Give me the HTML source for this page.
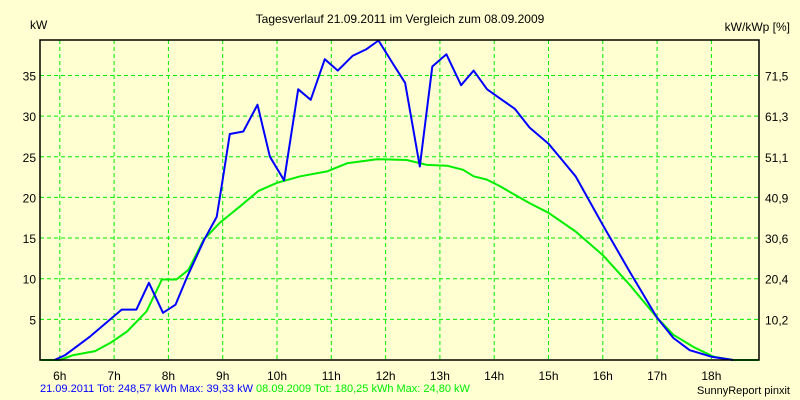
<!DOCTYPE html>
<html><head><meta charset="utf-8"><style>
body{margin:0;background:#ffffd2;}
svg{display:block;font-family:"Liberation Sans",Arial,sans-serif;}
</style></head><body>
<svg width="800" height="400" viewBox="0 0 800 400">
<rect x="0" y="0" width="800" height="400" fill="#ffffd2"/>
<text x="400" y="23" font-size="12" text-anchor="middle" fill="#000">Tagesverlauf 21.09.2011 im Vergleich zum 08.09.2009</text>
<text x="30" y="29" font-size="12" fill="#000">kW</text>
<text x="790" y="31" font-size="12" text-anchor="end" fill="#000">kW/kWp [%]</text>
<g id="grid"></g>
<g id="series"></g>
<rect x="40" y="40" width="719" height="320" fill="none" stroke="#000" stroke-width="1.5"/>
<g id="labels"></g>
<text x="40" y="392" font-size="11"><tspan fill="#0000ff">21.09.2011 Tot: 248,57 kWh Max: 39,33 kW</tspan><tspan fill="#00ee00"> 08.09.2009 Tot: 180,25 kWh Max: 24,80 kW</tspan></text>
<text x="790" y="394" font-size="11" text-anchor="end" fill="#000">SunnyReport pinxit</text>
</svg>
<script>
const hourTicks=[6,7,8,9,10,11,12,13,14,15,16,17,18];
const kwTicks=[5,10,15,20,25,30,35];
const pctTicks=["10,2","20,4","30,6","40,9","51,1","61,3","71,5"];
const blueT=[5.9,6.1,6.56,7.14,7.41,7.64,7.9,8.13,8.35,8.66,8.89,9.0,9.13,9.38,9.64,9.87,10.13,10.39,10.62,10.88,11.12,11.39,11.64,11.87,12.12,12.36,12.63,12.86,13.12,13.39,13.62,13.87,14.1,14.38,14.65,15.0,15.25,15.5,16.0,16.5,17.0,17.3,17.6,18.0,18.4];
const blueKW=[0,0.6,2.9,6.2,6.2,9.5,5.8,6.8,10.3,14.8,17.6,22.2,27.8,28.1,31.4,25.0,22.1,33.3,32.0,37.0,35.6,37.4,38.2,39.3,36.6,34.1,23.8,36.1,37.6,33.8,35.6,33.3,32.2,30.9,28.6,26.6,24.6,22.6,16.6,10.8,5.2,2.7,1.2,0.4,0];
const greenT=[5.65,6.0,6.25,6.65,6.93,7.24,7.6,7.88,8.15,8.37,8.65,8.95,9.32,9.66,10.0,10.43,10.92,11.29,11.84,12.39,12.76,13.13,13.43,13.62,13.86,14.1,14.41,14.65,15.0,15.5,16.0,16.5,17.0,17.3,17.67,18.04,18.4,18.87];
const greenKW=[0,0,0.6,1.1,2.1,3.5,6.0,9.9,9.9,11.1,14.8,16.9,18.9,20.8,21.8,22.6,23.2,24.2,24.7,24.6,24.0,23.9,23.4,22.6,22.2,21.4,20.2,19.3,18.1,15.8,12.9,9.2,5.2,3.1,1.6,0.4,0,0];
const NS="http://www.w3.org/2000/svg";
function xS(h){return 222.7+(h-9)*54.3;}
function yS(v){return 360-v*8.13;}
const grid=document.getElementById('grid'),labels=document.getElementById('labels'),ser=document.getElementById('series');
function mk(tag,attrs,parent){const e=document.createElementNS(NS,tag);for(const k in attrs)e.setAttribute(k,attrs[k]);parent.appendChild(e);return e;}
hourTicks.forEach(h=>{
  const l=mk('line',{x1:xS(h),x2:xS(h),y1:40,y2:360,stroke:'#00ee00','stroke-dasharray':'4,3','stroke-width':1},grid);
  
  
  const t=mk('text',{x:xS(h),y:380,'font-size':12,'text-anchor':'middle',fill:'#000'},labels);
  t.textContent=h+'h';
  
  
});
kwTicks.forEach((v,i)=>{
  const l=mk('line',{x1:40,x2:759,y1:yS(v),y2:yS(v),stroke:'#00ee00','stroke-dasharray':'4,3','stroke-width':1},grid);
  
  
  const t=mk('text',{x:36,y:yS(v)+5,'font-size':12,'text-anchor':'end',fill:'#000'},labels);
  t.textContent=v;
  
  
  const r=mk('text',{x:765,y:yS(v)+5,'font-size':12,fill:'#000'},labels);
  r.textContent=pctTicks[i];
  
  
});
function line(ts,vs,col,name){
  const p=mk('polyline',{points:ts.map((t,i)=>xS(t).toFixed(1)+','+yS(vs[i]).toFixed(1)).join(' '),fill:'none',stroke:col,'stroke-width':2,'stroke-linejoin':'round'},ser);
  
  
}
line(greenT,greenKW,'#00ee00','series-2009');
line(blueT,blueKW,'#0000ff','series-2011');
</script>
</body></html>
